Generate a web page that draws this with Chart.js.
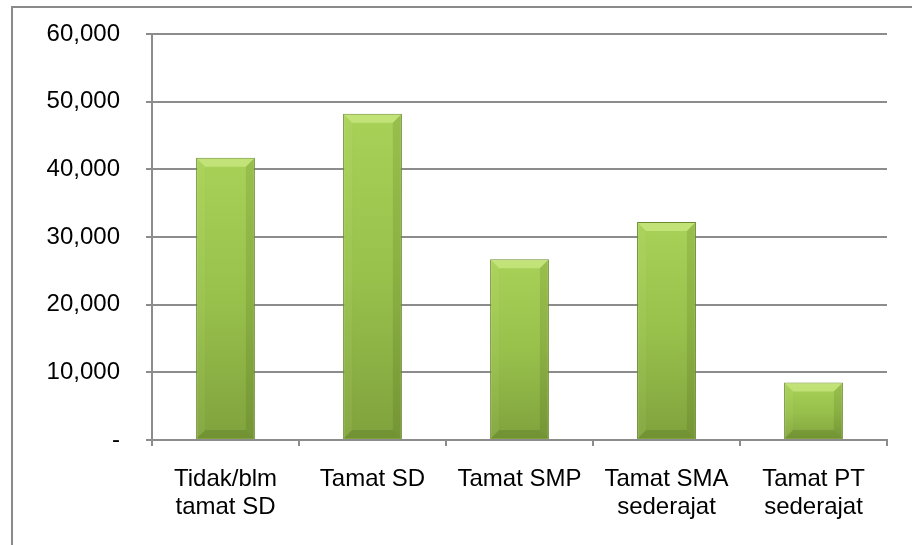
<!DOCTYPE html>
<html>
<head>
<meta charset="utf-8">
<script src="https://cdn.jsdelivr.net/npm/chart.js@4/dist/chart.umd.min.js"></script>
<style>
  html, body { margin: 0; padding: 0; background: #fff; }
  #wrap { position: relative; width: 912px; height: 545px; }
</style>
</head>
<body>
<div id="wrap"><canvas id="chart" width="912" height="545"></canvas></div>
<script>
// Education level categories (x axis)
const categories = [
  ["Tidak/blm", "tamat SD"],
  "Tamat SD",
  "Tamat SMP",
  ["Tamat SMA", "sederajat"],
  ["Tamat PT", "sederajat"],
]

// Population per category
const values = [41700, 48200, 26700, 32200, 8500]

// Y axis range
const yMin = 0
const yMax = 60000
const yStep = 10000

const gridColor = "#8c8c8c"

// Outer frame (left and top edges only, like the source image)
const framePlugin = {
  id: "frame",
  beforeDraw(chart) {
    const c = chart.ctx
    c.save()
    c.fillStyle = "#8a8a8a"
    c.fillRect(11, 6, 2, chart.height - 6)
    c.fillRect(11, 6, chart.width - 11, 2)
    c.restore()
  },
}

// Bevel edges on each bar
const bevelPlugin = {
  id: "bevel",
  afterDatasetsDraw(chart) {
    const c = chart.ctx
    const meta = chart.getDatasetMeta(0)
    meta.data.forEach((bar) => {
      const { x, y, base, width } = bar.getProps(["x", "y", "base", "width"], true)
      const l = x - width / 2 + 1
      const r = x + width / 2 - 1
      const t = y + 1
      const b = base - 1
      const s = Math.min(8, (b - t) / 2)
      c.save()
      // top (light)
      c.fillStyle = "rgba(235, 255, 170, 0.4)"
      c.beginPath()
      c.moveTo(l, t); c.lineTo(r, t); c.lineTo(r - s, t + s); c.lineTo(l + s, t + s)
      c.closePath(); c.fill()
      // left (slightly light)
      c.fillStyle = "rgba(220, 245, 150, 0.08)"
      c.beginPath()
      c.moveTo(l, t); c.lineTo(l + s, t + s); c.lineTo(l + s, b - s); c.lineTo(l, b)
      c.closePath(); c.fill()
      // right (dark)
      c.fillStyle = "rgba(40, 60, 0, 0.12)"
      c.beginPath()
      c.moveTo(r, t); c.lineTo(r - s, t + s); c.lineTo(r - s, b - s); c.lineTo(r, b)
      c.closePath(); c.fill()
      // bottom (dark)
      c.fillStyle = "rgba(40, 60, 0, 0.16)"
      c.beginPath()
      c.moveTo(l, b); c.lineTo(r, b); c.lineTo(r - s, b - s); c.lineTo(l + s, b - s)
      c.closePath(); c.fill()
      c.restore()
    })
  },
}

function barGradient(context) {
  const chart = context.chart
  if (!chart.chartArea) return "#94bd4a"
  const yScale = chart.scales.y
  const top = yScale.getPixelForValue(context.raw)
  const bottom = yScale.getPixelForValue(0)
  const g = chart.ctx.createLinearGradient(0, top, 0, bottom)
  g.addColorStop(0, "#a8d158")
  g.addColorStop(0.5, "#98c14c")
  g.addColorStop(1, "#80a23d")
  return g
}

new Chart(document.getElementById("chart"), {
  type: "bar",
  data: {
    labels: categories,
    datasets: [
      {
        data: values,
        backgroundColor: barGradient,
        borderColor: "#6b8a2e",
        borderWidth: 1,
        categoryPercentage: 1,
        barPercentage: 0.4,
      },
    ],
  },
  options: {
    responsive: false,
    animation: false,
    layout: { padding: { left: 0, top: 34, right: 25, bottom: 0 } },
    plugins: {
      legend: { display: false },
      tooltip: { enabled: false },
    },
    scales: {
      y: {
        min: yMin,
        max: yMax,
        afterFit(scale) {
          scale.width = 152
          scale.paddingTop = 0
          scale.paddingBottom = 0
        },
        ticks: {
          stepSize: yStep,
          color: "#000",
          padding: 26,
          font: { family: "'Liberation Sans', Arial, sans-serif", size: 24 },
          callback: (v) => (v === 0 ? "-" : v.toLocaleString("en-US")),
        },
        grid: { color: gridColor, lineWidth: 2, tickLength: 6 },
        border: { color: gridColor, width: 2 },
      },
      x: {
        afterFit(scale) {
          scale.height = 105
          scale.paddingLeft = 0
          scale.paddingRight = 0
        },
        ticks: {
          color: "#000",
          padding: 20,
          maxRotation: 0,
          autoSkip: false,
          font: { family: "'Liberation Sans', Arial, sans-serif", size: 24, lineHeight: 1.15 },
        },
        grid: { color: gridColor, lineWidth: 2, tickLength: 6, drawOnChartArea: false, offset: true },
        border: { color: gridColor, width: 2 },
      },
    },
  },
  plugins: [framePlugin, bevelPlugin],
})
</script>
</body>
</html>
